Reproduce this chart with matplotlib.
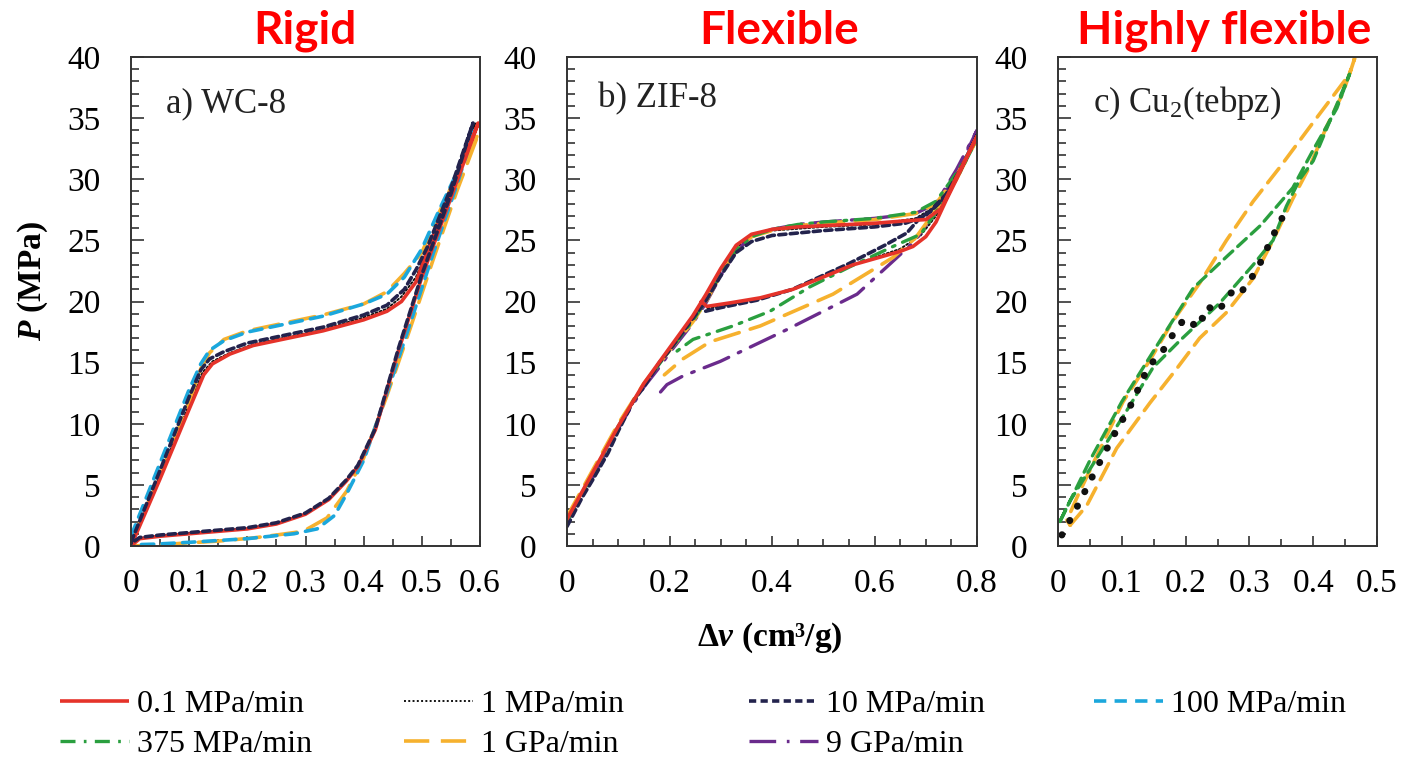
import matplotlib
matplotlib.use("Agg")
import matplotlib.pyplot as plt
from matplotlib.lines import Line2D
from matplotlib.ticker import MultipleLocator

plt.rcParams["font.family"] = ["Liberation Serif", "DejaVu Serif"]
plt.rcParams["mathtext.fontset"] = "custom"
plt.rcParams["mathtext.rm"] = "Liberation Serif"
plt.rcParams["mathtext.it"] = "Liberation Serif:italic:bold"
plt.rcParams["mathtext.bf"] = "Liberation Serif:bold"

# compression rates (legend labels)
rate_labels = ["0.1 MPa/min", "1 MPa/min", "10 MPa/min", "100 MPa/min",
               "375 MPa/min", "1 GPa/min", "9 GPa/min"]

# ---------------- a) WC-8 (loading then unloading) ----------------
wc8_x_01 = [0, 0.05, 0.10, 0.125, 0.14, 0.17, 0.21, 0.26, 0.33, 0.40, 0.44, 0.465,
            0.49, 0.51, 0.55, 0.597, 0.55, 0.50, 0.46, 0.42, 0.39, 0.37, 0.34,
            0.30, 0.25, 0.20, 0.15, 0.10, 0.05, 0.015, 0.0]
wc8_p_01 = [0, 5.5, 11.2, 14.0, 14.9, 15.7, 16.4, 16.9, 17.6, 18.5, 19.2, 20.0,
            21.6, 24.2, 29.0, 34.6, 28.5, 22.0, 16.0, 9.5, 6.5, 5.3, 3.8,
            2.6, 1.8, 1.4, 1.2, 1.0, 0.8, 0.6, 0.0]
wc8_x_1 = [0, 0.05, 0.10, 0.123, 0.14, 0.17, 0.21, 0.26, 0.33, 0.40, 0.44, 0.465,
           0.49, 0.51, 0.55, 0.592, 0.55, 0.50, 0.46, 0.42, 0.39, 0.37, 0.34,
           0.30, 0.25, 0.20, 0.15, 0.10, 0.05, 0.015, 0.0]
wc8_p_1 = [0.1, 5.8, 11.6, 14.2, 15.1, 15.8, 16.5, 17.0, 17.7, 18.7, 19.4, 20.4,
           22.0, 24.3, 29.2, 34.6, 28.6, 22.1, 16.1, 9.5, 6.5, 5.3, 3.8,
           2.6, 1.8, 1.4, 1.2, 1.0, 0.8, 0.6, 0.1]
wc8_x_10 = [0, 0.05, 0.10, 0.12, 0.135, 0.16, 0.20, 0.26, 0.33, 0.40, 0.44, 0.47,
            0.49, 0.51, 0.55, 0.588, 0.55, 0.50, 0.46, 0.42, 0.39, 0.37, 0.34,
            0.30, 0.25, 0.20, 0.15, 0.10, 0.05, 0.015, 0.0]
wc8_p_10 = [0.3, 6.2, 12.2, 14.4, 15.3, 15.9, 16.6, 17.2, 17.9, 18.9, 19.7, 21.0,
            22.6, 24.5, 29.3, 34.6, 28.8, 22.2, 16.2, 9.6, 6.6, 5.4, 3.9,
            2.7, 1.9, 1.5, 1.3, 1.1, 0.9, 0.7, 0.2]
wc8_x_100 = [0, 0.05, 0.10, 0.12, 0.135, 0.16, 0.20, 0.26, 0.33, 0.40, 0.44, 0.47,
             0.50, 0.53, 0.56, 0.59, 0.56, 0.52, 0.48, 0.44, 0.40, 0.37, 0.35,
             0.32, 0.28, 0.20, 0.10, 0.04, 0.0]
wc8_p_100 = [0.8, 6.8, 12.8, 14.9, 16.0, 16.8, 17.5, 18.1, 18.8, 19.8, 20.6, 22.0,
             24.3, 27.5, 30.5, 34.0, 29.5, 24.0, 18.2, 12.5, 7.0, 4.2, 2.5,
             1.4, 1.0, 0.6, 0.3, 0.15, 0.1]
wc8_x_1g = [0, 0.05, 0.10, 0.12, 0.135, 0.16, 0.20, 0.26, 0.33, 0.40, 0.44, 0.47,
            0.50, 0.53, 0.56, 0.598, 0.56, 0.52, 0.48, 0.44, 0.40, 0.371, 0.337,
            0.296, 0.25, 0.21, 0.15, 0.096, 0.05, 0.0]
wc8_p_1g = [0.2, 5.8, 11.8, 14.5, 15.8, 16.9, 17.6, 18.2, 18.9, 19.8, 20.8, 22.3,
            24.0, 27.3, 30.3, 33.8, 29.0, 23.5, 17.8, 12.3, 7.2, 4.5, 2.3,
            1.2, 0.9, 0.66, 0.4, 0.25, 0.1, 0.0]

# ---------------- b) ZIF-8 ----------------
zif_x_01 = [0, 0.05, 0.10, 0.15, 0.20, 0.245, 0.27, 0.30, 0.33, 0.36, 0.40, 0.45,
            0.50, 0.60, 0.66, 0.70, 0.73, 0.76, 0.78, 0.80,
            0.78, 0.76, 0.74, 0.72, 0.70, 0.675, 0.65, 0.60, 0.558, 0.50,
            0.441, 0.377, 0.32, 0.273, 0.262]
zif_p_01 = [2.2, 6.0, 9.8, 13.3, 16.2, 18.8, 20.5, 22.7, 24.6, 25.5, 25.9, 26.1,
            26.2, 26.4, 26.6, 26.7, 27.6, 30.2, 31.8, 33.5,
            31.8, 30.0, 28.3, 26.5, 25.3, 24.5, 24.1, 23.5, 23.0, 22.0,
            21.0, 20.3, 19.9, 19.6, 20.0]
zif_x_1 = [0, 0.05, 0.10, 0.15, 0.20, 0.245, 0.27, 0.30, 0.33, 0.36, 0.40, 0.50,
           0.60, 0.68, 0.72, 0.76, 0.80, 0.76, 0.72, 0.69, 0.65, 0.55, 0.44,
           0.37, 0.30, 0.27]
zif_p_1 = [2.1, 5.9, 9.7, 13.2, 16.1, 18.7, 20.3, 22.5, 24.4, 25.3, 25.8, 26.1,
           26.3, 26.8, 27.8, 30.2, 33.5, 30.1, 27.0, 25.4, 24.3, 22.9, 21.0,
           20.2, 19.6, 19.4]
zif_x_10 = [0, 0.03, 0.05, 0.08, 0.10, 0.13, 0.15, 0.18, 0.20, 0.245, 0.27, 0.30,
            0.33, 0.36, 0.40, 0.50, 0.60, 0.66, 0.70, 0.74, 0.77, 0.80,
            0.77, 0.74, 0.71, 0.69, 0.663, 0.62, 0.55, 0.44, 0.37, 0.30, 0.27]
zif_p_10 = [1.6, 4.0, 5.4, 7.6, 9.4, 11.9, 13.0, 15.0, 16.0, 18.6, 20.0, 22.1,
            24.0, 24.9, 25.4, 25.8, 26.1, 26.4, 27.0, 28.8, 31.0, 33.6,
            30.9, 28.6, 27.4, 26.9, 25.6, 24.6, 23.1, 21.0, 20.1, 19.5, 19.2]
zif_x_375 = [0, 0.05, 0.10, 0.15, 0.20, 0.245, 0.27, 0.30, 0.33, 0.36, 0.40, 0.45,
             0.50, 0.60, 0.68, 0.72, 0.76, 0.80, 0.76, 0.72, 0.69, 0.636, 0.55,
             0.474, 0.396, 0.324, 0.246, 0.21]
zif_p_375 = [2.0, 5.9, 9.8, 13.2, 16.0, 18.4, 20.0, 22.3, 24.2, 25.3, 25.9, 26.3,
             26.5, 26.8, 27.3, 28.2, 30.5, 33.3, 30.0, 27.3, 25.5, 24.5, 22.8,
             21.2, 19.2, 18.0, 16.9, 15.8]
zif_x_1g = [0, 0.05, 0.10, 0.15, 0.20, 0.245, 0.27, 0.30, 0.33, 0.36, 0.40, 0.45,
            0.50, 0.60, 0.68, 0.72, 0.76, 0.80, 0.76, 0.72, 0.68, 0.636, 0.519,
            0.377, 0.279, 0.226, 0.19]
zif_p_1g = [2.4, 6.2, 10.0, 13.3, 16.0, 18.3, 19.9, 22.2, 24.2, 25.3, 25.8, 26.2,
            26.4, 26.7, 27.2, 28.0, 30.3, 33.3, 30.0, 27.5, 25.2, 23.6, 20.6,
            18.0, 16.7, 15.3, 14.0]
zif_x_9g = [0, 0.03, 0.05, 0.07, 0.10, 0.12, 0.15, 0.18, 0.20, 0.245, 0.27, 0.30,
            0.33, 0.36, 0.40, 0.45, 0.50, 0.60, 0.68, 0.72, 0.76, 0.80,
            0.76, 0.72, 0.68, 0.644, 0.566, 0.429, 0.299, 0.226, 0.195, 0.17]
zif_p_9g = [2.0, 4.5, 5.6, 7.2, 9.6, 11.0, 13.0, 14.6, 15.8, 18.2, 19.8, 22.1,
            24.1, 25.3, 25.9, 26.3, 26.5, 26.8, 27.2, 28.0, 30.8, 34.0,
            30.5, 27.5, 25.0, 23.6, 20.6, 17.7, 15.1, 13.9, 13.2, 12.0]

# ---------------- c) Cu2(tebpz) ----------------
cu_x_1 = [0.006, 0.027, 0.058, 0.089, 0.113, 0.141, 0.171, 0.18, 0.194, 0.21,
          0.218, 0.227, 0.235, 0.249, 0.264, 0.274, 0.285, 0.30, 0.312, 0.322,
          0.34, 0.351]
cu_p_1 = [0.9, 2.9, 6.1, 9.2, 11.4, 14.6, 16.4, 17.3, 18.3, 17.8,
          18.9, 18.6, 19.6, 19.1, 20.1, 20.9, 20.6, 21.7, 22.6, 23.7,
          25.7, 26.8]
cu_x_375 = [0.003, 0.02, 0.05, 0.10, 0.16, 0.212, 0.265, 0.317, 0.368, 0.40,
            0.437, 0.457, 0.42, 0.40, 0.379, 0.358, 0.337, 0.306, 0.254, 0.191,
            0.149, 0.108, 0.055, 0.019, 0.003]
cu_p_375 = [2.0, 3.8, 7.0, 11.8, 16.8, 21.1, 23.7, 26.2, 29.3, 32.4,
            35.8, 38.6, 34.0, 31.5, 30.0, 27.8, 25.0, 23.0, 19.9, 16.8,
            14.6, 11.1, 6.7, 3.7, 2.0]
cu_x_1g = [0.019, 0.045, 0.092, 0.144, 0.186, 0.222, 0.264, 0.306, 0.337, 0.368,
           0.395, 0.421, 0.447, 0.465, 0.457, 0.421, 0.395, 0.348, 0.306, 0.264,
           0.222, 0.18, 0.144, 0.102, 0.061, 0.03, 0.014, 0.019]
cu_p_1g = [1.7, 3.3, 8.0, 11.7, 14.5, 17.0, 19.1, 21.9, 25.0, 28.4,
           31.1, 34.3, 37.1, 39.9, 38.6, 36.1, 34.3, 31.0, 28.2, 25.0,
           21.5, 18.4, 15.2, 11.8, 7.4, 4.0, 2.1, 1.7]

panel_titles = ["Rigid", "Flexible", "Highly flexible"]
panel_labels = ["a) WC-8", "b) ZIF-8", "c) Cu$_{2}$(tebpz)"]
y_ticks = [0, 5, 10, 15, 20, 25, 30, 35, 40]
x_ticks_a = [0, 0.1, 0.2, 0.3, 0.4, 0.5, 0.6]
x_labels_a = ["0", "0.1", "0.2", "0.3", "0.4", "0.5", "0.6"]
x_ticks_b = [0, 0.2, 0.4, 0.6, 0.8]
x_labels_b = ["0", "0.2", "0.4", "0.6", "0.8"]
x_ticks_c = [0, 0.1, 0.2, 0.3, 0.4, 0.5]
x_labels_c = ["0", "0.1", "0.2", "0.3", "0.4", "0.5"]

# line styles per rate
styles = {
    "0.1 MPa/min": dict(color="#e5332a", lw=2.6, dashes=()),
    "1 MPa/min": dict(color="#111111", lw=1.4, dashes=(1.0, 1.2)),
    "10 MPa/min": dict(color="#23234d", lw=2.6, dashes=(2.0, 1.2)),
    "100 MPa/min": dict(color="#1ba7dc", lw=2.6, dashes=(3.4, 2.3)),
    "375 MPa/min": dict(color="#2a9f3f", lw=2.4, dashes=(4.5, 2.5, 0.8, 2.5)),
    "1 GPa/min": dict(color="#f6b12e", lw=2.6, dashes=(7.0, 3.2)),
    "9 GPa/min": dict(color="#6a2b8c", lw=2.4, dashes=(8.0, 3.2, 0.8, 3.2)),
}


def draw(ax, x, p, rate, **over):
    st = dict(styles[rate])
    st.update(over)
    dashes = st.pop("dashes")
    line, = ax.plot(x, p, solid_capstyle="round", dash_capstyle="round", **st)
    if dashes:
        line.set_dashes(dashes)
    return line


def style_axes(ax, xmax, xticks, xlabels, label, lx, ly):
    ax.set_xlim(0, xmax)
    ax.set_ylim(0, 40)
    ax.set_xticks(xticks, xlabels)
    ax.set_yticks(y_ticks, [str(v) for v in y_ticks])
    ax.xaxis.set_minor_locator(MultipleLocator(0.05))
    ax.yaxis.set_minor_locator(MultipleLocator(1))
    ax.tick_params(axis="both", which="both", direction="in", top=False,
                   right=False, color="#333333", width=1.2)
    ax.tick_params(axis="y", which="major", length=9, pad=22, labelsize=24)
    ax.tick_params(axis="y", which="minor", length=6)
    ax.tick_params(axis="x", which="major", length=7, pad=16, labelsize=24)
    ax.tick_params(axis="x", which="minor", length=5)
    for s in ax.spines.values():
        s.set_linewidth(1.4)
        s.set_color("#333333")
    ax.text(lx, ly, label, transform=ax.transAxes, fontsize=25,
            va="center", ha="left", color="#222222")


fig = plt.figure(figsize=(14.03, 7.60), dpi=100)
W, H = 1403.0, 760.0
ax_a = fig.add_axes([131 / W, 1 - 546 / H, 349 / W, 489 / H])
ax_b = fig.add_axes([567 / W, 1 - 546 / H, 410 / W, 489 / H])
ax_c = fig.add_axes([1058 / W, 1 - 546 / H, 319 / W, 489 / H])

# panel a
draw(ax_a, wc8_x_1, wc8_p_1, "1 MPa/min")
draw(ax_a, wc8_x_1g, wc8_p_1g, "1 GPa/min")
draw(ax_a, wc8_x_100, wc8_p_100, "100 MPa/min")
draw(ax_a, wc8_x_01, wc8_p_01, "0.1 MPa/min")
draw(ax_a, wc8_x_10, wc8_p_10, "10 MPa/min")
style_axes(ax_a, 0.6, x_ticks_a, x_labels_a, panel_labels[0], 0.10, 0.905)

# panel b
draw(ax_b, zif_x_1, zif_p_1, "1 MPa/min")
draw(ax_b, zif_x_9g, zif_p_9g, "9 GPa/min")
draw(ax_b, zif_x_1g, zif_p_1g, "1 GPa/min")
draw(ax_b, zif_x_375, zif_p_375, "375 MPa/min")
draw(ax_b, zif_x_10, zif_p_10, "10 MPa/min")
draw(ax_b, zif_x_01, zif_p_01, "0.1 MPa/min")
style_axes(ax_b, 0.8, x_ticks_b, x_labels_b, panel_labels[1], 0.075, 0.915)

# panel c
draw(ax_c, cu_x_1g, cu_p_1g, "1 GPa/min", dashes=(5.0, 2.6))
draw(ax_c, cu_x_375, cu_p_375, "375 MPa/min", dashes=(3.5, 2.0))
draw(ax_c, cu_x_1, cu_p_1, "1 MPa/min", lw=5.0, dashes=(0.05, 2.3))
style_axes(ax_c, 0.5, x_ticks_c, x_labels_c, panel_labels[2], 0.11, 0.905)

# panel titles
title_x = [305, 779, 1224]
for t, xc in zip(panel_titles, title_x):
    fig.text(xc / W, 1 - 31 / H, t, color="#ff0000", fontsize=33,
             fontweight="bold", family=["Lato", "DejaVu Sans"],
             ha="center", va="center")

# axis labels
fig.text(33 / W, 1 - 281 / H, "$\\mathit{P}$ (MPa)", rotation=90,
         fontsize=24, fontweight="bold", ha="center", va="center")
fig.text(770 / W, 1 - 638 / H, "Δ$\\mathit{v}$ (cm³/g)",
         fontsize=24, fontweight="bold", ha="center", va="center")

# legend: one small legend per column so the columns sit where they do
legend_cols = [["0.1 MPa/min", "375 MPa/min"], ["1 MPa/min", "1 GPa/min"],
               ["10 MPa/min", "9 GPa/min"], ["100 MPa/min"]]
col_x = [60, 404, 749, 1094]
for labels, cx in zip(legend_cols, col_x):
    handles = []
    for r in labels:
        st = dict(styles[r])
        dashes = st.pop("dashes")
        h = Line2D([], [], solid_capstyle="butt", dash_capstyle="butt", **st)
        if dashes:
            h.set_dashes(dashes)
        handles.append(h)
    fig.legend(handles, labels, loc="upper left",
               bbox_to_anchor=(cx / W, 1 - 690 / H), frameon=False,
               fontsize=23, handlelength=2.15, handletextpad=0.25,
               labelspacing=0.33, borderpad=0, borderaxespad=0)

fig.savefig("out.png", dpi=100, facecolor="white")
